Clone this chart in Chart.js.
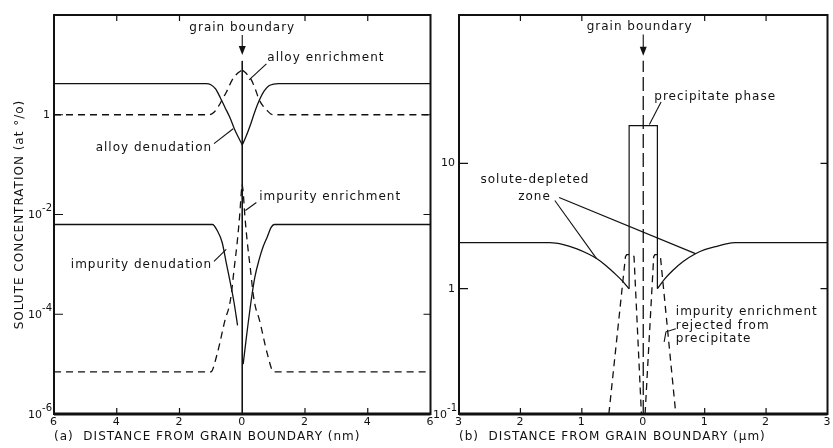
<!DOCTYPE html>
<html>
<head>
<meta charset="utf-8">
<script src="https://cdn.jsdelivr.net/npm/chart.js@4.4.0/dist/chart.umd.min.js"></script>
<style>
  body { margin: 0; background: #fff; }
  #wrapA { position: absolute; left: 0; top: 0; width: 436px; height: 448px; }
  #wrapB { position: absolute; left: 426px; top: 0; width: 407px; height: 448px; }
</style>
</head>
<body>
<div id="wrapA"><canvas id="chartA"></canvas></div>
<div id="wrapB"><canvas id="chartB"></canvas></div>
<script>
// ---- panel (a): distance in nm, concentration in at.% ----
var xTicksA = [-6, -4, -2, 0, 2, 4, 6];
var yTicksA = [1e-6, 1e-4, 1e-2, 1];

var alloyDepLeftX = [-6, -1.15, -1.0, -0.85, -0.7, -0.55, -0.4, -0.25, -0.1, 0];
var alloyDepLeftY = [4.2, 4.2, 4.0, 3.3, 2.2, 1.4, 0.9, 0.52, 0.33, 0.25];
var alloyDepRightX = [0, 0.1, 0.25, 0.4, 0.55, 0.7, 0.85, 1.0, 1.15, 6];
var alloyDepRightY = [0.25, 0.34, 0.6, 1.15, 2.0, 3.0, 3.8, 4.1, 4.2, 4.2];

var alloyEnrLeftX = [-6, -1.05, -0.9, -0.75, -0.64, -0.5, -0.32, -0.15, 0];
var alloyEnrLeftY = [1, 1, 1.12, 1.5, 2.0, 2.9, 5.0, 6.8, 7.9];
var alloyEnrRightX = [0, 0.15, 0.29, 0.42, 0.54, 0.66, 0.77, 0.9, 1.02, 6];
var alloyEnrRightY = [7.9, 6.5, 5.0, 3.2, 2.0, 1.5, 1.26, 1.05, 1, 1];

var impDepLeftX = [-6, -0.95, -0.8, -0.64, -0.5, -0.42, -0.32, -0.26, -0.15];
var impDepLeftY = [6.3e-3, 6.3e-3, 4.8e-3, 2.75e-3, 1.0e-3, 5.7e-4, 2.75e-4, 1.7e-4, 6e-5];
var impDepRightX = [0.03, 0.12, 0.29, 0.4, 0.54, 0.67, 0.8, 0.92, 1.02, 6];
var impDepRightY = [1e-5, 3e-5, 2e-4, 5.5e-4, 1.26e-3, 2.3e-3, 3.6e-3, 5.5e-3, 6.3e-3, 6.3e-3];

var impEnrLeftX = [-6, -1.0, -0.8, -0.54, -0.42, -0.35, -0.26, -0.16, -0.08, -0.03, 0];
var impEnrLeftY = [7e-6, 7e-6, 1.6e-5, 8e-5, 1.4e-4, 2.5e-4, 8e-4, 2.8e-3, 1e-2, 2.8e-2, 4e-2];
var impEnrRightX = [0, 0.03, 0.08, 0.16, 0.26, 0.35, 0.42, 0.54, 0.8, 1.0, 6];
var impEnrRightY = [4e-2, 2.8e-2, 1e-2, 2.8e-3, 8e-4, 2.5e-4, 1.4e-4, 8e-5, 1.6e-5, 7e-6, 7e-6];

var boundaryAX = [0, 0];
var boundaryAY = [12, 1e-6];

// ---- panel (b): distance in um ----
var xTicksB = [-3, -2, -1, 0, 1, 2, 3];
var yTicksB = [0.1, 1, 10];

var matrixLeftX = [-3, -1.52, -1.3, -1.08, -0.9, -0.76, -0.6, -0.44, -0.33, -0.23];
var matrixLeftY = [2.33, 2.33, 2.25, 2.08, 1.9, 1.74, 1.52, 1.29, 1.14, 1.0];
var matrixRightX = [0.23, 0.35, 0.48, 0.65, 0.85, 1.0, 1.18, 1.35, 1.5, 3];
var matrixRightY = [1.0, 1.2, 1.4, 1.65, 1.9, 2.05, 2.17, 2.28, 2.33, 2.33];

var precipX = [-0.23, -0.23, 0.23, 0.23];
var precipY = [1.0, 20, 20, 1.0];

var spikeLeftX = [-0.56, -0.29, -0.27, -0.17, -0.15, -0.03];
var spikeLeftY = [0.1, 1.8, 1.87, 1.87, 1.8, 0.1];
var spikeRightX = [0.03, 0.17, 0.19, 0.26, 0.28, 0.53];
var spikeRightY = [0.1, 1.8, 1.87, 1.87, 1.8, 0.1];

var boundaryBX = [0, 0];
var boundaryBY = [0.1, 66];

Chart.defaults.font.family = 'DejaVu Sans';
var INK = '#111';

function line(xs, ys, dash, smooth, width) {
  return {
    data: xs.map(function (x, i) { return { x: x, y: ys[i] }; }),
    showLine: true,
    borderColor: INK,
    borderWidth: width || 1.3,
    borderDash: dash || [],
    pointRadius: 0,
    tension: 0,
    cubicInterpolationMode: smooth ? 'monotone' : 'default'
  };
}

// inward ticks, frame and the 10^n labels
var framePlugin = {
  id: 'frame',
  beforeDraw: function (chart) { chart.ctx.letterSpacing = '1px'; },
  afterDraw: function (chart) {
    var ctx = chart.ctx, a = chart.chartArea;
    var xs = chart.scales.x, ys = chart.scales.y;
    ctx.save();
    ctx.strokeStyle = INK;
    ctx.lineWidth = 2;
    ctx.strokeRect(a.left, a.top, a.right - a.left, a.bottom - a.top);
    ctx.lineWidth = 3;
    ctx.beginPath(); ctx.moveTo(a.left, a.bottom); ctx.lineTo(a.right, a.bottom); ctx.stroke();
    ctx.lineWidth = 1.2;
    ctx.beginPath();
    xs.ticks.forEach(function (t) {
      if (t.value === 0 || t.value === xs.min || t.value === xs.max) return;
      var x = xs.getPixelForValue(t.value);
      ctx.moveTo(x, a.bottom); ctx.lineTo(x, a.bottom - 6);
      ctx.moveTo(x, a.top); ctx.lineTo(x, a.top + 6);
    });
    ys.ticks.forEach(function (t) {
      if (t.value === ys.min) return;
      var y = ys.getPixelForValue(t.value);
      ctx.moveTo(a.left, y); ctx.lineTo(a.left + 9, y);
      ctx.moveTo(a.right, y); ctx.lineTo(a.right - 7, y);
    });
    ctx.stroke();

    ctx.letterSpacing = '0px';
    ctx.fillStyle = INK;
    ctx.textAlign = 'right';
    ctx.textBaseline = 'middle';
    ys.ticks.forEach(function (t) {
      var y = ys.getPixelForValue(t.value);
      var e = Math.round(Math.log10(t.value));
      if (e === 0 || e === 1) {
        ctx.font = '11px "DejaVu Sans"';
        ctx.fillText(e === 0 ? '1' : '10', a.left - 4, y);
        return;
      }
      var right = a.left - 2;
      ctx.font = '10px "DejaVu Sans"';
      var sup = String(e);
      var w = ctx.measureText(sup).width;
      ctx.fillText(sup, right, y - 6);
      ctx.font = '11px "DejaVu Sans"';
      ctx.fillText('10', right - w, y + 1);
    });
    ctx.restore();
  }
};

// labels, leader lines and boundary arrows, placed in data units
var notesPlugin = {
  id: 'notes',
  afterDatasetsDraw: function (chart, args, opts) {
    var ctx = chart.ctx, xs = chart.scales.x, ys = chart.scales.y;
    function px(p) { return [xs.getPixelForValue(p[0]), ys.getPixelForValue(p[1])]; }
    ctx.save();
    ctx.fillStyle = INK;
    ctx.strokeStyle = INK;
    ctx.font = '12px "DejaVu Sans"';
    ctx.textBaseline = 'middle';
    (opts.labels || []).forEach(function (l) {
      var p = px(l.at);
      ctx.textAlign = l.align;
      ctx.fillText(l.text, p[0], p[1]);
    });
    ctx.lineWidth = 1.1;
    (opts.leaders || []).forEach(function (seg) {
      ctx.beginPath();
      seg.forEach(function (q, i) {
        var p = px(q);
        if (i) ctx.lineTo(p[0], p[1]); else ctx.moveTo(p[0], p[1]);
      });
      ctx.stroke();
    });
    (opts.arrows || []).forEach(function (ar) {
      var p0 = px(ar[0]), p1 = px(ar[1]);
      ctx.beginPath(); ctx.moveTo(p0[0], p0[1]); ctx.lineTo(p1[0], p1[1] - 6); ctx.stroke();
      ctx.beginPath();
      ctx.moveTo(p1[0], p1[1]);
      ctx.lineTo(p1[0] - 3.5, p1[1] - 9);
      ctx.lineTo(p1[0] + 3.5, p1[1] - 9);
      ctx.closePath();
      ctx.fill();
    });
    ctx.restore();
  }
};

function buildChart(id, p) {
  return new Chart(document.getElementById(id), {
    type: 'scatter',
    data: { datasets: p.datasets },
    options: {
      responsive: true,
      maintainAspectRatio: false,
      animation: false,
      layout: { padding: p.padding },
      plugins: { legend: { display: false }, tooltip: { enabled: false }, notes: p.notes },
      scales: {
        x: {
          type: 'linear', min: p.xTicks[0], max: p.xTicks[p.xTicks.length - 1],
          afterBuildTicks: function (s) { s.ticks = p.xTicks.map(function (v) { return { value: v }; }); },
          afterFit: function (s) { s.height = 34; },
          grid: { display: false, drawTicks: false },
          border: { display: false },
          ticks: {
            autoSkip: false, maxRotation: 0, padding: 2, color: INK,
            font: { size: 11 },
            callback: function (v) { return Math.abs(v); }
          },
          title: {
            display: true, text: p.xTitle, align: 'start', color: INK,
            font: { size: 12 }, padding: { top: 0, bottom: 4 }
          }
        },
        y: {
          type: 'logarithmic', min: p.yMin, max: p.yMax,
          afterBuildTicks: function (s) { s.ticks = p.yTicks.map(function (v) { return { value: v }; }); },
          afterFit: function (s) { s.width = p.yWidth; },
          grid: { display: false, drawTicks: false },
          border: { display: false },
          ticks: { display: false },
          title: {
            display: !!p.yTitle, text: p.yTitle || '', color: INK,
            font: { size: 12 }, padding: { top: 13, bottom: 0 }
          }
        }
      }
    },
    plugins: [framePlugin, notesPlugin]
  });
}

var dashA = [7, 5];
buildChart('chartA', {
  xTicks: xTicksA, yTicks: yTicksA, yMin: 1e-6, yMax: 100, yWidth: 54,
  padding: { top: 15, right: 4, bottom: 0, left: 0 },
  xTitle: '(a)  DISTANCE FROM GRAIN BOUNDARY (nm)',
  yTitle: 'SOLUTE CONCENTRATION (at °/o)',
  datasets: [
    line(alloyDepLeftX, alloyDepLeftY, null, true),
    line(alloyDepRightX, alloyDepRightY, null, true),
    line(alloyEnrLeftX, alloyEnrLeftY, dashA, true),
    line(alloyEnrRightX, alloyEnrRightY, dashA, true),
    line(impDepLeftX, impDepLeftY, null, true),
    line(impDepRightX, impDepRightY, null, true),
    line(impEnrLeftX, impEnrLeftY, dashA, true),
    line(impEnrRightX, impEnrRightY, dashA, true),
    line(boundaryAX, boundaryAY, null, false, 1)
  ],
  notes: {
    labels: [
      { text: 'grain boundary', at: [0, Math.pow(10, 1.74)], align: 'center' },
      { text: 'alloy enrichment', at: [0.8, Math.pow(10, 1.14)], align: 'left' },
      { text: 'alloy denudation', at: [-0.96, Math.pow(10, -0.66)], align: 'right' },
      { text: 'impurity enrichment', at: [0.54, Math.pow(10, -1.64)], align: 'left' },
      { text: 'impurity denudation', at: [-0.96, Math.pow(10, -3.02)], align: 'right' }
    ],
    leaders: [
      [[0.77, Math.pow(10, 1.02)], [0.22, Math.pow(10, 0.7)]],
      [[-0.9, Math.pow(10, -0.58)], [-0.29, Math.pow(10, -0.28)]],
      [[0.45, Math.pow(10, -1.76)], [0.1, Math.pow(10, -1.92)]],
      [[-0.9, Math.pow(10, -2.94)], [-0.51, Math.pow(10, -2.7)]]
    ],
    arrows: [[[0, Math.pow(10, 1.6)], [0, Math.pow(10, 1.2)]]]
  }
});

var dashB = [7, 5];
buildChart('chartB', {
  xTicks: xTicksB, yTicks: yTicksB, yMin: 0.1, yMax: 153, yWidth: 33,
  padding: { top: 15, right: 1, bottom: 0, left: 0 },
  xTitle: '(b)  DISTANCE FROM GRAIN BOUNDARY (µm)',
  yTitle: null,
  datasets: [
    line(matrixLeftX, matrixLeftY, null, true),
    line(matrixRightX, matrixRightY, null, true),
    line(precipX, precipY, null, false, 1.2),
    line(spikeLeftX, spikeLeftY, dashB, false),
    line(spikeRightX, spikeRightY, dashB, false),
    line(boundaryBX, boundaryBY, [14, 5], false, 1.3)
  ],
  notes: {
    labels: [
      { text: 'grain boundary', at: [-0.06, Math.pow(10, 2.09)], align: 'center' },
      { text: 'precipitate phase', at: [0.18, Math.pow(10, 1.53)], align: 'left' },
      { text: 'solute-depleted', at: [-2.65, Math.pow(10, 0.872)], align: 'left' },
      { text: 'zone', at: [-1.77, Math.pow(10, 0.736)], align: 'center' },
      { text: 'impurity enrichment', at: [0.53, Math.pow(10, -0.184)], align: 'left' },
      { text: 'rejected from', at: [0.53, Math.pow(10, -0.296)], align: 'left' },
      { text: 'precipitate', at: [0.53, Math.pow(10, -0.4)], align: 'left' }
    ],
    leaders: [
      [[0.29, Math.pow(10, 1.49)], [0.1, Math.pow(10, 1.31)]],
      [[-1.44, Math.pow(10, 0.704)], [-0.76, Math.pow(10, 0.24)]],
      [[-1.37, Math.pow(10, 0.728)], [0.85, Math.pow(10, 0.28)]],
      [[0.53, Math.pow(10, -0.32)], [0.37, Math.pow(10, -0.344)], [0.34, Math.pow(10, -0.424)]]
    ],
    arrows: [[[0, Math.pow(10, 2.03)], [0, Math.pow(10, 1.86)]]]
  }
});
</script>
</body>
</html>
